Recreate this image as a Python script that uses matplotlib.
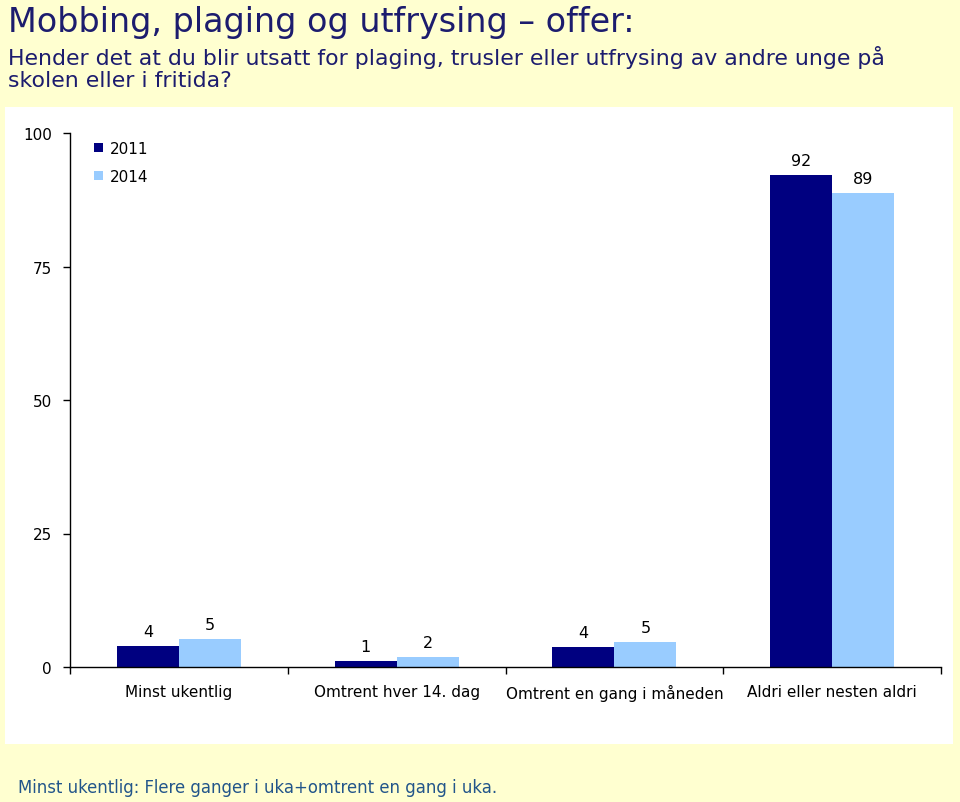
import matplotlib
matplotlib.use("Agg")
import matplotlib.pyplot as plt
from matplotlib.patches import Rectangle
import numpy as np

categories = ["Minst ukentlig", "Omtrent hver 14. dag", "Omtrent en gang i måneden", "Aldri eller nesten aldri"]
series_names = ["2011", "2014"]
values_2011 = [3.9, 1.1, 3.7, 92.1]
values_2014 = [5.2, 1.9, 4.7, 88.7]
labels_2011 = ["4", "1", "4", "92"]
labels_2014 = ["5", "2", "5", "89"]
yticks = [0, 25, 50, 75, 100]

title = "Mobbing, plaging og utfrysing \u2013 offer:"
subtitle = "Hender det at du blir utsatt for plaging, trusler eller utfrysing av andre unge på\nskolen eller i fritida?"
footer = "Minst ukentlig: Flere ganger i uka+omtrent en gang i uka."

plt.rcParams['font.family'] = ['DejaVu Sans']

fig = plt.figure(figsize=(9.6, 8.03), dpi=100)
fig.patch.set_facecolor("#FFFFD0")

# white chart panel
fig.patches.append(Rectangle((5/960, 1-745/803), 948/960, 637/803, transform=fig.transFigure,
                             facecolor="white", edgecolor="none", zorder=-10))

ax = fig.add_axes([70/960, 1-668/803, 871/960, 534/803])
ax.set_zorder(5)
ax.set_facecolor("none")

x = np.arange(len(categories))
w = 0.285
c1, c2 = "#000080", "#99CCFF"
b1 = ax.bar(x - w/2, values_2011, w, color=c1, label=series_names[0], zorder=2)
b2 = ax.bar(x + w/2, values_2014, w, color=c2, label=series_names[1], zorder=2)

for rect, lab in zip(b1, labels_2011):
    ax.annotate(lab, (rect.get_x() + rect.get_width()/2, rect.get_height()),
                xytext=(0, 5), textcoords="offset points", ha="center", va="bottom", fontsize=11.5)
for rect, lab in zip(b2, labels_2014):
    ax.annotate(lab, (rect.get_x() + rect.get_width()/2, rect.get_height()),
                xytext=(0, 5), textcoords="offset points", ha="center", va="bottom", fontsize=11.5)

ax.set_xlim(-0.5, 3.5)
ax.set_ylim(0, 100)
ax.set_yticks(yticks)
ax.tick_params(axis='y', direction='out', length=5, width=1, pad=8, labelsize=11)
ax.set_xticks(x)
ax.set_xticklabels(categories, fontsize=11)
ax.tick_params(axis='x', which='major', length=0, pad=12)
ax.set_xticks([-0.5, 0.5, 1.5, 2.5, 3.5], minor=True)
ax.tick_params(axis='x', which='minor', direction='out', length=5, width=1)
for s in ["top", "right"]:
    ax.spines[s].set_visible(False)
for s in ["left", "bottom"]:
    ax.spines[s].set_linewidth(1)
    ax.spines[s].set_color("black")

leg = ax.legend(loc="upper left", bbox_to_anchor=(0.012, 1.011), frameon=False, fontsize=11,
                handlelength=0.6, handleheight=0.6, handletextpad=0.4, labelspacing=0.85)

navy = "#1C1C6E"
fig.text(8/960, 1-6/803, title, fontsize=24, color=navy, ha="left", va="top")
fig.text(8/960, 1-46/803, subtitle, fontsize=15.8, color=navy, ha="left", va="top", linespacing=1.15)
fig.text(18/960, 1-788/803, footer, fontsize=11.9, color="#22558A", ha="left", va="center")

fig.savefig("out.png", dpi=100, facecolor=fig.get_facecolor())
